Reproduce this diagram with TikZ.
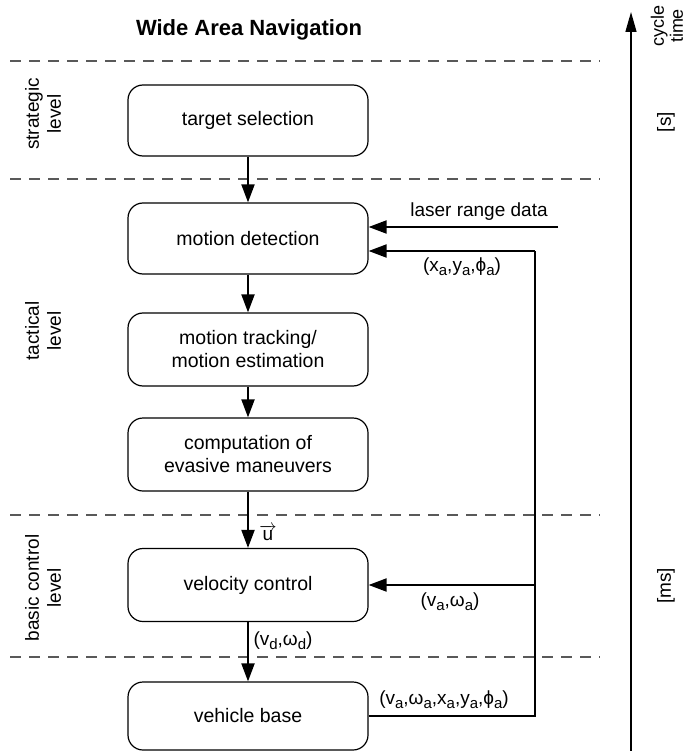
\documentclass[tikz,border=0pt]{standalone}
\usepackage{fontspec}
\setmainfont{Liberation Sans}
\usetikzlibrary{arrows.meta}
\newcommand\lsub[1]{\raisebox{-0.4ex}{\fontsize{15}{15}\selectfont #1}}
\begin{document}
\begin{tikzpicture}[x=1pt,y=-1pt,
  box/.style={draw, rounded corners=15pt, line width=1.2pt, minimum width=240pt,
    minimum height=71pt, align=center, font=\fontsize{19.5}{23}\selectfont, inner sep=0pt},
  arr/.style={line width=2pt, -{Triangle[length=18pt,width=13pt]}},
  fb/.style={line width=2pt},
  lvl/.style={dash pattern=on 11pt off 8pt, line width=1.3pt, draw=black!65},
  lbl/.style={font=\fontsize{19}{22}\selectfont, inner sep=0pt, align=center},
  sml/.style={font=\fontsize{18}{19}\selectfont, inner sep=0pt, align=center},
]
\useasboundingbox (0,0) rectangle (688,751);

% title
\node[font=\bfseries\fontsize{22}{26}\selectfont, inner sep=0pt] (title) at (249,30) {Wide Area Navigation};

% level separators
\coordinate (d1l) at (10,61);  \coordinate (d1r) at (600,61);
\coordinate (d2l) at (10,179); \coordinate (d2r) at (600,179);
\coordinate (d3l) at (10,515); \coordinate (d3r) at (600,515);
\coordinate (d4l) at (10,657); \coordinate (d4r) at (600,657);
\draw[lvl] (d1l) -- (d1r);
\draw[lvl] (d2l) -- (d2r);
\draw[lvl] (d3l) -- (d3r);
\draw[lvl] (d4l) -- (d4r);

% level labels
\node[lbl, rotate=90] (strat) at (43,114) {strategic\\level};
\node[lbl, rotate=90] (tact) at (43,331) {tactical\\level};
\node[lbl, rotate=90] (basic) at (43,588) {basic control\\level};

% boxes
\node[box] (ts) at (248,120.5) {target selection};
\node[box] (md) at (248,238.5) {motion detection};
\node[box, minimum height=73pt] (mt) at (248,349.5) {motion tracking/\\motion estimation};
\node[box, minimum height=73pt] (ce) at (248,454.5) {computation of\\evasive maneuvers};
\node[box, minimum height=73pt] (vc) at (248,585) {velocity control};
\node[box, minimum height=68pt] (vb) at (248,716) {vehicle base};

% vertical flow
\draw[arr] (ts) -- (md);
\draw[arr] (md) -- (mt);
\draw[arr] (mt) -- (ce);
\draw[arr] (ce) -- (vc);
\draw[arr] (vc) -- (vb);

% laser input
\coordinate (ls) at (558,227);
\draw[arr] (ls) -- (ls -| md.east);
\node[lbl, anchor=base] (lrd) at (479,217) {laser range data};

% feedback
\coordinate (fbb) at (535,716);
\coordinate (fbt) at (535,251);
\coordinate (fbm) at (535,585);
\draw[fb] (vb.east) -- (fbb) -- (fbt);
\draw[arr] (fbt) -- (fbt -| md.east);
\draw[arr] (fbm) -- (vc.east);

% labels
\node[lbl] (lxa) at (462,267) {(x\lsub{a},y\lsub{a},ϕ\lsub{a})};
\node[lbl] (lva) at (450,602) {(v\lsub{a},ω\lsub{a})};
\node[lbl] (lvd) at (283,641) {(v\lsub{d},ω\lsub{d})};
\node[lbl] (lall) at (444,700) {(v\lsub{a},ω\lsub{a},x\lsub{a},y\lsub{a},ϕ\lsub{a})};
\node[lbl] (lu) at (268,533) {$\overrightarrow{\mbox{u}}$};

% cycle time axis
\coordinate (axb) at (631,751);
\coordinate (axt) at (631,12);
\draw[line width=1.4pt, -{Triangle[length=20pt,width=11pt]}] (axb) -- (axt);
\node[sml, rotate=90] (ct) at (667,26) {cycle\\time};
\node[lbl, rotate=90] (us) at (666,122) {[s]};
\node[lbl, rotate=90] (ums) at (666,586) {[ms]};
\end{tikzpicture}
\end{document}
